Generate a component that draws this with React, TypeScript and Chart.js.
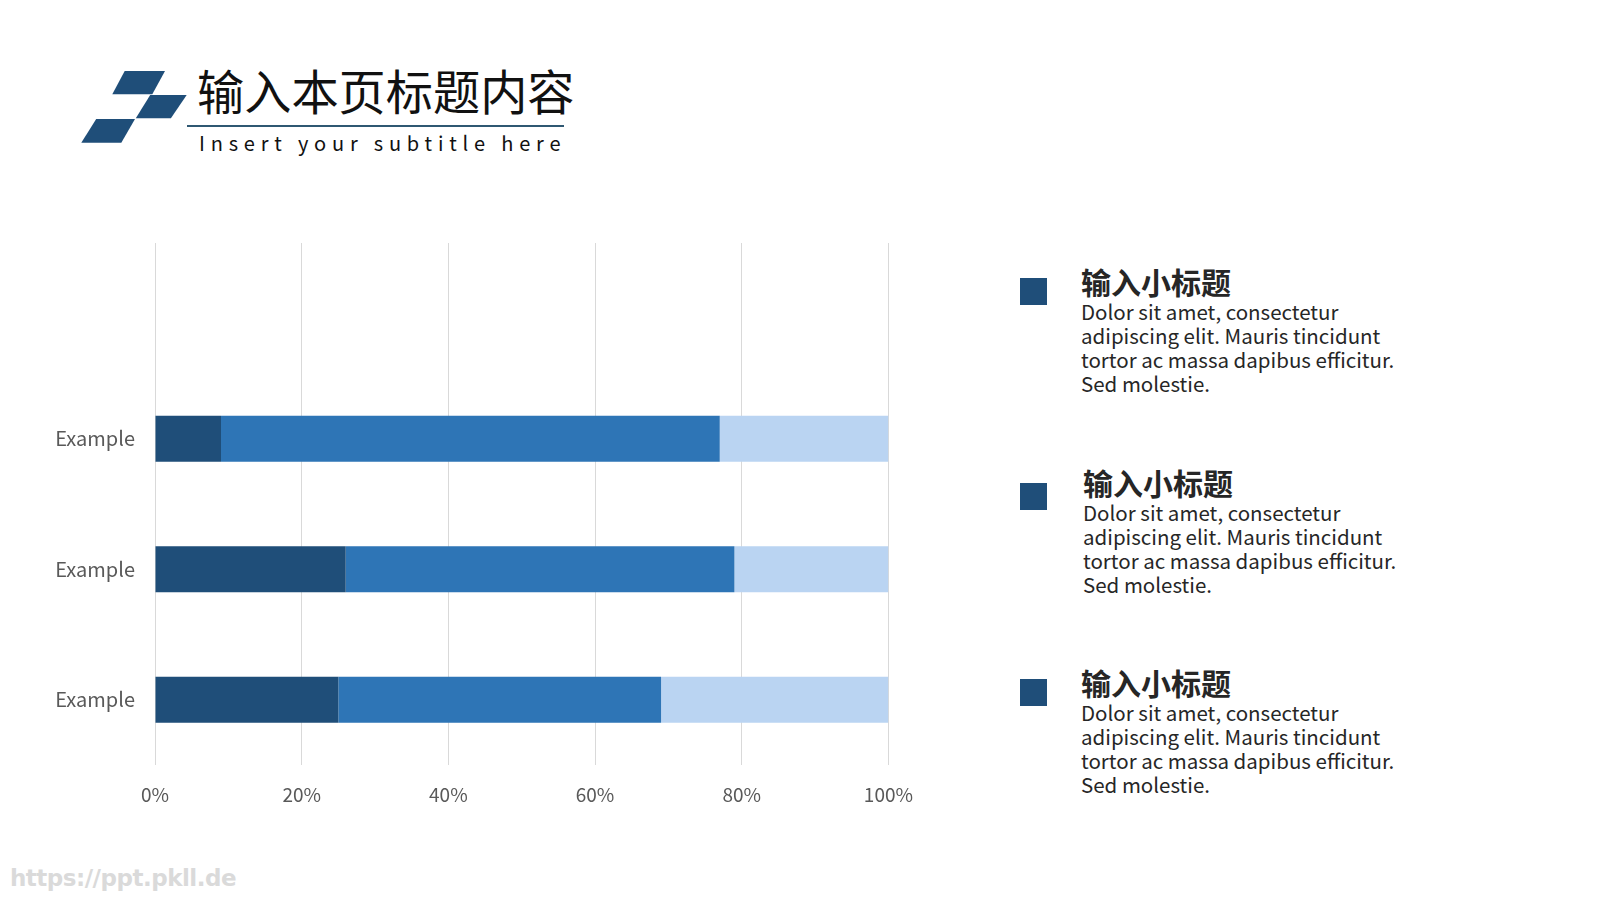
import React, { useEffect, useRef } from "react";
import { Chart, registerables } from "chart.js";

Chart.register(...registerables);

const categories = ["", "Example", "Example", "Example"];
const seriesA = [null, 9, 26, 25];
const seriesB = [null, 68, 53, 44];
const seriesC = [null, 23, 21, 31];
const xTicks = [0, 20, 40, 60, 80, 100];

const COLORS = ["#1F4E79", "#2E75B6", "#BAD4F2"];

const blocks = [
  { sq: 278, title: 263, x: 1081 },
  { sq: 483, title: 464, x: 1083 },
  { sq: 679, title: 664, x: 1081 },
];
const blockTitle = "输入小标题";
const blockBody = [
  "Dolor sit amet, consectetur",
  "adipiscing elit. Mauris tincidunt",
  "tortor ac massa dapibus efficitur.",
  "Sed molestie.",
];

const FONT = "'Noto Sans CJK SC', 'Noto Sans', sans-serif";

function BarChart() {
  const ref = useRef<HTMLCanvasElement | null>(null);
  useEffect(() => {
    if (!ref.current) return;
    const chart = new Chart(ref.current, {
      type: "bar",
      data: {
        labels: categories,
        datasets: [
          { label: "A", data: seriesA, backgroundColor: COLORS[0] },
          { label: "B", data: seriesB, backgroundColor: COLORS[1] },
          { label: "C", data: seriesC, backgroundColor: COLORS[2] },
        ] as any,
      },
      options: {
        indexAxis: "y",
        animation: false,
        responsive: false,
        maintainAspectRatio: false,
        layout: { padding: 0 },
        datasets: { bar: { barPercentage: 0.352, categoryPercentage: 1 } },
        plugins: { legend: { display: false }, tooltip: { enabled: false } },
        scales: {
          x: {
            stacked: true,
            min: 0,
            max: 100,
            afterBuildTicks: (s: any) => {
              s.ticks = xTicks.map((v) => ({ value: v }));
            },
            afterFit: (s: any) => {
              s.height = 65;
            },
            grid: { color: "#D9D9D9", lineWidth: 1, drawTicks: false },
            border: { display: false },
            ticks: {
              padding: 18,
              color: "#595959",
              font: { family: FONT, size: 19 },
              callback: (v: any) => v + "%",
            },
          },
          y: {
            stacked: true,
            afterFit: (s: any) => {
              s.width = 155;
            },
            grid: { display: false, drawTicks: false },
            border: { display: false },
            ticks: {
              padding: 20,
              color: "#595959",
              font: { family: FONT, size: 20 },
            },
          },
        },
      },
    });
    return () => chart.destroy();
  }, []);
  return (
    <canvas
      ref={ref}
      width={931}
      height={619}
      style={{ position: "absolute", left: 0, top: 211, width: 931, height: 619 }}
    />
  );
}

export default function App() {
  return (
    <div
      style={{
        position: "absolute",
        left: 0,
        top: 0,
        width: 1600,
        height: 900,
        background: "#fff",
        overflow: "hidden",
        fontFamily: FONT,
      }}
    >
      <svg width={200} height={160} style={{ position: "absolute", left: 0, top: 0 }}>
        <polygon points="124.7,71 165,71 152.3,94.3 112.3,94.3" fill="#1F4E79" />
        <polygon points="150.2,95 186.7,95 170.9,118.3 135.8,118.3" fill="#1F4E79" />
        <polygon points="96.2,119 135,119 121.3,142.7 81.3,142.7" fill="#1F4E79" />
      </svg>
      <div
        style={{
          position: "absolute",
          left: 197,
          top: 60,
          fontSize: 47.2,
          lineHeight: "60px",
          color: "#111",
          whiteSpace: "nowrap",
        }}
      >
        输入本页标题内容
      </div>
      <div
        style={{
          position: "absolute",
          left: 187,
          top: 124.5,
          width: 377,
          height: 2,
          background: "#2F5872",
        }}
      />
      <div
        style={{
          position: "absolute",
          left: 199,
          top: 130,
          fontSize: 20,
          lineHeight: "26px",
          letterSpacing: 5.8,
          color: "#111",
          whiteSpace: "nowrap",
        }}
      >
        Insert your subtitle here
      </div>

      <BarChart />

      {blocks.map((b, i) => (
        <React.Fragment key={i}>
          <div
            style={{
              position: "absolute",
              left: 1020,
              top: b.sq,
              width: 27,
              height: 27,
              background: "#1F4E79",
            }}
          />
          <div style={{ position: "absolute", left: b.x, top: b.title, color: "#262626" }}>
            <div style={{ fontSize: 30, fontWeight: 700, lineHeight: "36px" }}>{blockTitle}</div>
            {blockBody.map((t, j) => (
              <div key={j} style={{ fontSize: 20.5, lineHeight: "24px", whiteSpace: "nowrap" }}>
                {t}
              </div>
            ))}
          </div>
        </React.Fragment>
      ))}

      <div
        style={{
          position: "absolute",
          left: 10,
          top: 862,
          fontSize: 23,
          lineHeight: "32px",
          fontWeight: 700,
          color: "#DADADA",
          fontFamily: "'DejaVu Sans', sans-serif",
          letterSpacing: -0.5,
          whiteSpace: "nowrap",
        }}
      >
        https://ppt.pkll.de
      </div>
    </div>
  );
}
